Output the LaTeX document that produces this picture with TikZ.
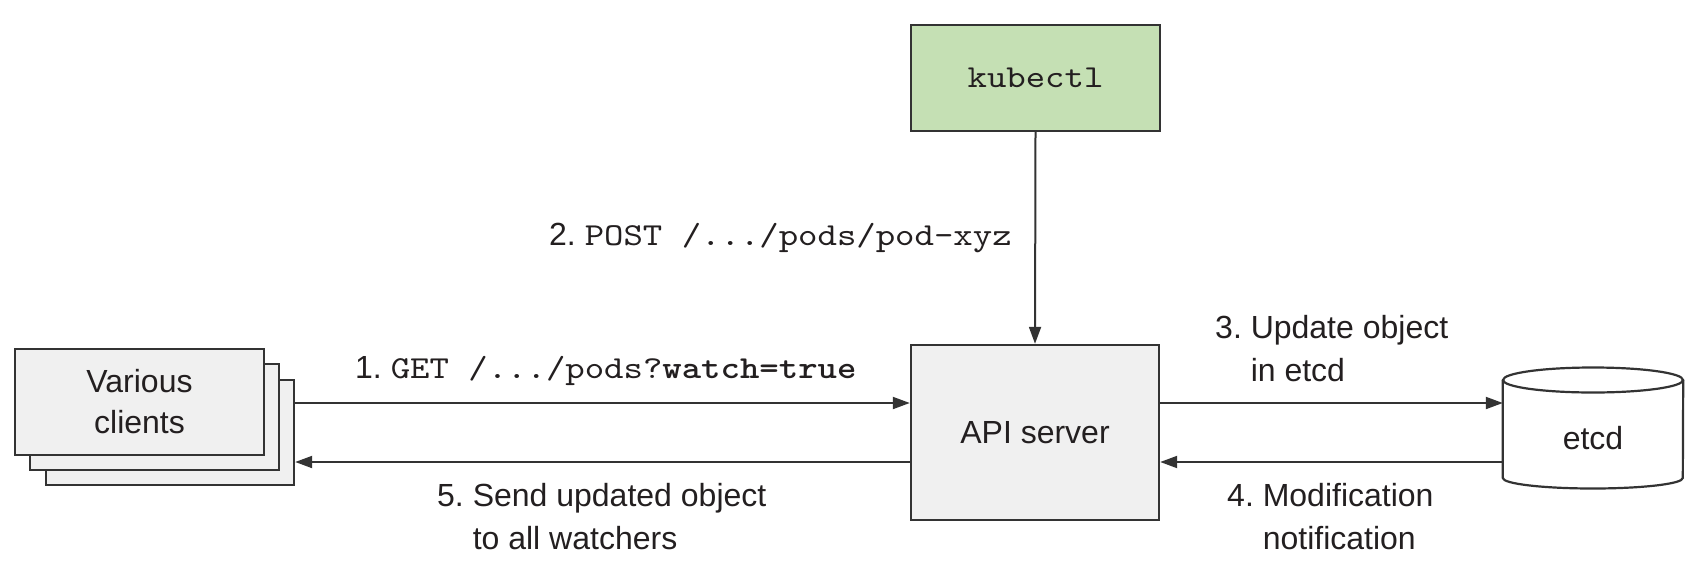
\documentclass[tikz,border=0pt]{standalone}
\usepackage{fontspec}
\setmainfont{Liberation Sans}
\setsansfont{Liberation Sans}
\newfontfamily\codefam{lmmono10-regular}[Extension=.otf, BoldFont=lmmonolt10-bold, FakeStretch=1.155]
\usetikzlibrary{arrows.meta}

\definecolor{ink}{HTML}{231F20}
\definecolor{boxgray}{HTML}{F0F0F0}
\definecolor{kubegreen}{HTML}{C5E0B4}
\definecolor{edge}{HTML}{333333}

\newcommand{\nodefont}{\fontsize{32}{41}\selectfont}
\newcommand{\labelfont}{\fontsize{32}{43}\selectfont}
\newcommand{\codefont}{\fontsize{32}{43}\selectfont\codefam}

\tikzset{
  box/.style={draw=edge, line width=2.4pt, fill=boxgray, text=ink,
    inner sep=0pt, font=\nodefont, align=center},
  conn/.style={draw=edge, line width=2pt},
  arr/.style={conn, -{Triangle[length=17pt,width=12pt]}},
  steplabel/.style={anchor=base west, inner sep=0pt, text=ink,
    font=\labelfont, align=left},
}

\begin{document}
\begin{tikzpicture}[x=1pt, y=-1pt]
  \useasboundingbox (0,0) rectangle (1697,581);

  % stack of client boxes, back to front
  \node[box, minimum width=248pt, minimum height=105pt] (back) at (170,432.5) {};
  \node[box, minimum width=249pt, minimum height=106pt] (middle) at (154.5,417) {};
  \node[box, minimum width=249pt, minimum height=106pt] (clients) at (139.5,402) {Various\\clients};

  % kubectl and the API server
  \node[box, fill=kubegreen, minimum width=249pt, minimum height=106pt,
        font=\codefont] (kubectl) at (1035.5,78) {kubectl};
  \node[box, minimum width=248pt, minimum height=175pt] (api) at (1035,432.5) {API server};

  % etcd as a cylinder
  \node[inner sep=0pt, minimum width=180pt, minimum height=60pt, text=ink,
        font=\nodefont] (etcd) at (1593,438) {};
  \begin{scope}[draw=edge, line width=2.2pt]
    \draw[fill=white] (etcd.west |- 0,380) -- (etcd.west |- 0,478)
      arc[start angle=180, end angle=0, x radius=90, y radius=10.5]
      -- (etcd.east |- 0,380);
    \draw[fill=white] (1593,380) ellipse[x radius=90, y radius=12.5];
  \end{scope}
  \node[text=ink, font=\nodefont, inner sep=0pt] at (etcd.center) {etcd};

  % connectors
  \draw[arr] ([yshift=29.5pt]back.east) -- ([yshift=29.5pt]api.west);
  \draw[arr] ([yshift=-29.5pt]api.west) -- ([yshift=-29.5pt]back.east);
  \draw[arr] (kubectl.south) -- (api.north);
  \draw[arr] ([yshift=29.5pt]api.east) -- ([yshift=29.5pt]api.east -| etcd.west);
  \draw[arr] ([yshift=-29.5pt]api.east -| etcd.west) -- ([yshift=-29.5pt]api.east);

  % step labels (base anchor sits on the last line)
  \node[steplabel] (l1) at (355,378) {1.\ {\codefont GET /.../pods?\textbf{watch=true}}};
  \node[steplabel] (l2) at (549,245) {2.\ {\codefont POST /.../pods/pod-xyz}};
  \node[steplabel] (l3) at (1215,381) {3.\ Update object\\\hphantom{3.\ }in etcd};
  \node[steplabel] (l4) at (1227,549) {4.\ Modification\\\hphantom{4.\ }notification};
  \node[steplabel] (l5) at (437,549) {5.\ Send updated object\\\hphantom{5.\ }to all watchers};
\end{tikzpicture}
\end{document}
